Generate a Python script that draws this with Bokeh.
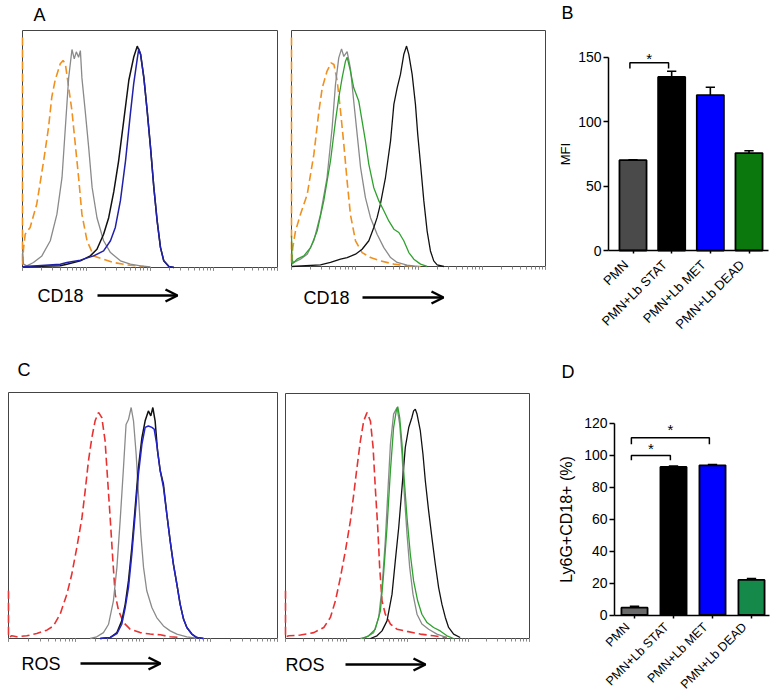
import math
from bokeh.plotting import figure
from bokeh.layouts import row, column
from bokeh.models import (Range1d, Label, Arrow, OpenHead, FixedTicker, CustomJSTickFormatter,
                          LinearAxis)
from bokeh.embed import file_html
from bokeh.resources import INLINE

FONT = "Liberation Sans"

# ---------------- histogram data (channel 0-1000 on a 4-decade log scale, % of max) -------------
# Panel A left: CD18, isotype / PMN / PMN+Lb STAT / PMN+Lb MET
a1_iso_ch = [0, 0, 4, 10.5, 30, 56, 83, 102, 115, 128, 148, 159, 168, 181, 194, 207, 220, 233, 253, 279, 318, 358, 410, 476]
a1_iso_y = [97, 1, 8, 14, 16.9, 26.8, 45, 59, 72, 79, 86, 87.3, 86, 76, 66, 52, 38, 22.5, 11.3, 4.9, 3.5, 2.1, 1.1, 0.4]
a1_pmn_ch = [0, 4, 17, 43, 76, 109, 135, 155, 168, 181, 194, 203, 211, 220, 227, 233, 246, 259.5, 273, 292, 318, 345, 384, 423, 463, 502]
a1_pmn_y = [7, 1.4, 0.7, 2.1, 4.9, 11.3, 22.5, 38, 59, 80, 92, 88, 91, 88.7, 91.5, 80, 66, 50.7, 33.8, 21, 11.3, 6.3, 2.8, 1.4, 0.7, 0.3]
a1_stat_ch = [0, 148, 174, 227, 266, 292, 318, 338, 358, 377, 397, 417, 436, 450, 463, 476, 489, 502, 515, 528, 541, 554, 574, 594]
a1_stat_y = [0.3, 0.7, 1.4, 2.8, 4.9, 7.7, 14, 21, 32, 45, 62, 79, 88.7, 93.4, 90, 80, 66, 50.7, 33.8, 19.7, 8.5, 2.8, 0.4, 0]
a1_met_ch = [0, 148, 174, 227, 279, 318, 345, 364, 384, 404, 423, 436, 450, 456, 463, 476, 489, 502, 515, 528, 541, 554, 574, 594]
a1_met_y = [0.3, 1.4, 2.1, 3.1, 4.9, 7, 11.3, 16.9, 28.2, 45, 64.8, 77.5, 88, 92.3, 90, 80, 66, 50.7, 33.8, 19.7, 8.5, 2.8, 0.4, 0]

# Panel A right: CD18, isotype / PMN / PMN+Lb DEAD / PMN+Lb STAT
a2_iso_ch = [0, 0, 5, 15.7, 35, 62, 88, 108, 121, 140, 156, 167, 180, 193, 206, 219, 232, 252, 278, 311, 350, 403, 455, 508]
a2_iso_y = [97, 1, 8, 15, 22, 30.6, 47.5, 65.9, 75.7, 82.8, 86.3, 85.6, 78.6, 65.9, 51.8, 36.2, 22, 10.9, 5.9, 3.8, 2.4, 1, 0.3, 0]
a2_pmn_ch = [0, 9, 35, 62, 88, 114, 140, 160, 173, 186, 197, 206, 219, 232, 245, 258.5, 272, 291, 311, 337, 363.5, 390, 416, 455, 495]
a2_pmn_y = [3, 1.7, 3.1, 5.2, 10.9, 22, 37.7, 58.8, 77, 88.4, 92.2, 89, 91, 84, 70, 56, 41.9, 29.2, 20.7, 13.7, 8, 3.8, 1.7, 0.6, 0]
a2_dead_ch = [0, 2.6, 22, 48.6, 75, 101, 127, 153.5, 173, 186, 199.5, 212.6, 219, 232, 245, 265, 278, 291, 304.5, 324, 344, 363.5, 383, 403, 422.6, 442, 462, 481.6, 508, 534]
a2_dead_y = [13, 1, 3.1, 4.5, 8, 15, 27.8, 44.7, 61.6, 71.5, 80, 87, 88.7, 82.8, 75.7, 70, 61.6, 53.2, 43.3, 33.4, 27.8, 23.6, 19.3, 15.8, 14.4, 10.9, 5.9, 3.1, 1, 0.1]
a2_stat_ch = [0, 114, 153.5, 193, 219, 252, 278, 304.5, 324, 337, 350, 370, 390, 403, 416, 429, 442, 453, 462, 475, 488, 497, 508, 521, 534, 547, 560, 573.5, 600]
a2_stat_y = [0, 0.7, 1.7, 3.1, 3.8, 5.2, 7.3, 10.9, 16.5, 20.7, 26.4, 37.7, 53.2, 68.7, 75.7, 81.4, 89.8, 93.4, 89.8, 81.4, 68.7, 56, 43.3, 27.8, 15, 6.6, 2.4, 0.7, 0]

# Panel C left: ROS, unstained / PMN / PMN+Lb STAT / PMN+Lb MET
c1_iso_ch = [0, 0, 12.4, 31, 68, 105, 142.5, 167, 192, 217, 235, 254, 273, 285, 297, 310, 322, 334.6, 347, 359, 368, 378, 388, 396.5, 409, 427.5, 452, 489.5, 526.6, 564, 601, 638]
c1_iso_y = [19.4, 0.5, 1.1, 0.7, 1.1, 2, 3.4, 5.1, 9.9, 18, 26, 37, 49, 60, 72, 81.7, 88.5, 91.9, 89.8, 80.4, 65.4, 49, 31.6, 18, 11.4, 6.5, 3.8, 2.4, 1.8, 1.5, 0.7, 0.4]
c1_pmn_ch = [303.6, 328, 353, 372, 390, 403, 415, 427.5, 437, 446, 456, 464.7, 474.6, 483, 492, 502, 514, 533, 551, 576, 601, 626, 663, 700]
c1_pmn_y = [0, 0.7, 2.4, 5.8, 15.3, 28.9, 47.8, 69.5, 87, 89, 93.9, 88.5, 74.9, 58.7, 42.4, 28.9, 19.4, 12.6, 8.5, 5.1, 3.1, 1.8, 0.7, 0.1]
c1_stat_ch = [341, 378, 403, 421, 434, 446, 458.5, 471, 483, 496, 508, 520, 529, 536.6, 545, 554, 564, 576, 588.6, 601, 613, 626, 638, 650.6, 663, 681.5, 700, 725]
c1_stat_y = [0, 0.4, 2.4, 7.2, 14, 23.4, 37, 53.3, 69.5, 81.7, 88.5, 92.5, 90.5, 93.9, 88.5, 76.3, 68.2, 62.7, 50.5, 39.7, 30.2, 22, 14, 7.9, 4.5, 1.8, 0.4, 0]
c1_met_ch = [341, 378, 403, 421, 434, 446, 458.5, 471, 483, 496, 508, 520, 533, 541.5, 551, 564, 576, 588.6, 601, 613, 626, 638, 650.6, 663, 681.5, 700, 725]
c1_met_y = [0, 0.4, 2, 5.8, 12.6, 20.7, 34.3, 50.5, 66.8, 79, 85.8, 86.4, 85.8, 85.1, 79, 68.2, 61.4, 50.5, 39.7, 30.2, 22, 14, 7.9, 4.5, 1.8, 0.4, 0]

# Panel C right: ROS, unstained / PMN / PMN+Lb DEAD / PMN+Lb STAT
c2_iso_ch = [0, 0, 2.7, 13.6, 61, 116, 157, 184, 204.6, 225, 245.6, 266, 279.7, 293, 307, 320.6, 334, 348, 359, 368, 378, 386, 395.6, 409, 430, 457, 498, 552.5, 607, 661.7]
c2_iso_y = [19.5, 0.5, 0.8, 1.1, 1.4, 2.4, 4.5, 8.6, 15.4, 24.9, 35.8, 48, 58.9, 69.8, 80.7, 88.8, 92.2, 88.8, 78, 61.6, 45.3, 29, 15.4, 9.9, 5.9, 3.8, 2.9, 1.8, 1.1, 0.4]
c2_pmn_ch = [307, 334, 361.5, 382, 395.6, 409, 419, 430, 443, 457, 468, 477.5, 487, 498, 509, 522.5, 539, 559, 586.6, 620.7, 661.7]
c2_pmn_y = [0, 0.7, 2.4, 8.6, 20.8, 39.9, 58.9, 79.3, 91.6, 94.3, 87.5, 75.2, 58.9, 42.6, 29, 18.1, 9.9, 5.9, 3.8, 1.8, 0.4]
c2_dead_ch = [314, 341, 368, 389, 402, 416, 430, 443, 454, 460, 468, 477.5, 487, 498, 511.6, 525, 541.6, 559, 580, 607, 634, 661.7, 689]
c2_dead_y = [0, 1.1, 3.8, 11.3, 26.3, 45.3, 68.4, 86.1, 92.9, 94.6, 90.2, 79.3, 64.4, 49.4, 34.4, 23.5, 15.4, 9.9, 6.5, 4.5, 3.1, 1.1, 0]
c2_stat_ch = [348, 375, 395.6, 416, 436.6, 450, 464, 477.5, 491, 505, 518, 525, 532, 539, 552.5, 563.4, 573, 586.6, 600, 614, 627.6, 641, 655, 668.5, 689, 716]
c2_stat_y = [0, 1.1, 3.1, 7.2, 18.1, 31.7, 45.3, 61.6, 78, 86.1, 90.2, 92.9, 93.6, 91.6, 84.8, 75.2, 64.4, 52.1, 41.2, 30.3, 20.8, 14, 8.6, 4.5, 1.8, 0.4]

# ---------------- bar chart data -------------
categories = ["PMN", "PMN+Lb STAT", "PMN+Lb MET", "PMN+Lb DEAD"]
mfi_vals = [70, 134.5, 120.5, 75.5]
mfi_err = [0.4, 4.5, 6.0, 1.8]
mfi_ticks = [0, 50, 100, 150]
mfi_sig_from = [1]
mfi_sig_to = [2]
mfi_sig_y = [145.5]
mfi_sig_leg = [141]
mfi_star_y = [148.5]

pct_vals = [4.6, 92.8, 93.8, 22.0]
pct_err = [0.8, 0.6, 0.5, 0.8]
pct_ticks = [0, 20, 40, 60, 80, 100, 120]
pct_sig_from = [1, 1]
pct_sig_to = [2, 3]
pct_sig_y = [100, 111]
pct_sig_leg = [97, 107]
pct_star_y = [104.5, 116.5]

# ---------------- styles -------------
GRAY = "#8a8a8a"
BLACK = "#111111"
BLUE_A = "#2020a8"
BLUE_C = "#2323c8"
GREEN = "#2ea12e"
ORANGE = "#f0901e"
RED = "#e83232"
colors_B = ["#4a4a4a", "#000000", "#0000ff", "#0b780d"]
colors_D = ["#6a6a6a", "#000000", "#0000ff", "#15894a"]


def to_int(ch):
    return [10 ** (c / 250.0) for c in ch]


def base_fig(w, h, xr, yr, log_x=False, y_axis=True):
    kw = dict(width=w, height=h, x_range=xr, y_range=yr, output_backend="svg", toolbar_location=None,
              title=None, min_border=0, min_border_left=0, min_border_right=0,
              min_border_top=0, min_border_bottom=0)
    if log_x:
        kw["x_axis_type"] = "log"
    if not y_axis:
        kw["y_axis_location"] = None
    p = figure(**kw)
    p.grid.visible = False
    p.outline_line_color = None
    p.background_fill_color = "white"
    p.border_fill_color = "white"
    return p


def hist_fig(w, h, bl, br, bt, bb):
    """Frame covers the whole canvas; the histogram box spans 10^0..10^4 x 0..100."""
    dpp = 4.0 / (br - bl)
    ppu = (bb - bt) / 100.0
    xr = Range1d(10 ** (-bl * dpp), 10 ** (4 + (w - br) * dpp))
    yr = Range1d(-(h - bb) / ppu, 100 + bt / ppu)
    p = base_fig(w, h, xr, yr, log_x=True, y_axis=False)
    ax = p.xaxis[0]
    ax.fixed_location = 0
    ax.bounds = (1, 1e4)
    ax.axis_line_color = None
    ax.major_tick_in = 0
    ax.minor_tick_in = 0
    ax.major_tick_out = 3
    ax.minor_tick_out = 3
    ax.major_tick_line_color = "#666666"
    ax.minor_tick_line_color = "#888888"
    ax.formatter = CustomJSTickFormatter(code="return ''")
    ax.major_label_text_color = None
    ax.major_label_text_font_size = "1px"
    p.quad(left=[1], right=[1e4], bottom=[0], top=[100], fill_color=None,
           line_color="#444444", line_width=1)

    def X(px):
        return 10 ** ((px - bl) * dpp)

    def Y(py):
        return (bb - py) / ppu
    return p, X, Y


def curve(p, ch, y, color, dash="solid", width=1.3):
    p.line(to_int(ch), y, line_color=color, line_width=width, line_dash=dash)


def text(p, x, y, t, size, align="left", baseline="middle"):
    p.add_layout(Label(x=x, y=y, text=t, text_font=FONT, text_font_size=size,
                       text_align=align, text_baseline=baseline, text_color="black"))


def arrow(p, x0, x1, y):
    p.add_layout(Arrow(end=OpenHead(size=12, line_width=2.5, line_color="black"),
                       x_start=x0, y_start=y, x_end=x1, y_end=y,
                       line_width=2.5, line_color="black"))


# ---- A left (canvas 283 x 350)
pA1, X, Y = hist_fig(283, 350, 22, 277, 30, 267)
curve(pA1, a1_iso_ch, a1_iso_y, ORANGE, "8 4", 1.6)
curve(pA1, a1_pmn_ch, a1_pmn_y, GRAY)
curve(pA1, a1_stat_ch, a1_stat_y, BLACK, width=1.5)
curve(pA1, a1_met_ch, a1_met_y, BLUE_A, width=1.5)
text(pA1, X(33), Y(14), "A", "18px")
text(pA1, X(37), Y(295), "CD18", "18px")
arrow(pA1, X(97), X(177), Y(295))

# ---- A right (canvas 275 x 350)
pA2, X, Y = hist_fig(275, 350, 8, 262, 30, 266)
curve(pA2, a2_iso_ch, a2_iso_y, ORANGE, "8 4", 1.6)
curve(pA2, a2_pmn_ch, a2_pmn_y, GRAY)
curve(pA2, a2_stat_ch, a2_stat_y, BLACK)
curve(pA2, a2_dead_ch, a2_dead_y, GREEN)
text(pA2, X(20), Y(297), "CD18", "18px")
arrow(pA2, X(79), X(160), Y(297))

# ---- C left (canvas 281 x 345)
pC1, X, Y = hist_fig(281, 345, 8, 277, 42, 288)
curve(pC1, c1_iso_ch, c1_iso_y, RED, "8 4", 1.6)
curve(pC1, c1_pmn_ch, c1_pmn_y, GRAY)
curve(pC1, c1_stat_ch, c1_stat_y, BLACK, width=1.5)
curve(pC1, c1_met_ch, c1_met_y, BLUE_C, width=1.5)
text(pC1, X(17), Y(19), "C", "18px")
text(pC1, X(21), Y(313), "ROS", "18px")
arrow(pC1, X(80), X(160), Y(313))

# ---- C right (canvas 277 x 345)
pC2, X, Y = hist_fig(277, 345, 4, 248, 43, 288)
curve(pC2, c2_iso_ch, c2_iso_y, RED, "8 4", 1.6)
curve(pC2, c2_pmn_ch, c2_pmn_y, GRAY)
curve(pC2, c2_stat_ch, c2_stat_y, BLACK)
curve(pC2, c2_dead_ch, c2_dead_y, GREEN)
text(pC2, X(4), Y(314), "ROS", "18px")
arrow(pC2, X(64), X(144), Y(314))


def bar_fig(w, h, c1_px, ppx, axis_px, axis_end_px, y0_px, ppu, ytop, ticks, vals, errs, colors,
            ylabel, ylabel_size, label_standoff, sig_from, sig_to, sig_y, sig_leg, star_y, bar_w,
            cat_size, cat_standoff):
    def X(px):
        return 1 + (px - c1_px) / ppx

    def Y(py):
        return (y0_px - py) / ppu
    p = base_fig(w, h, Range1d(X(0), X(w)), Range1d(Y(h), Y(0)))
    xs = list(range(1, len(categories) + 1))
    p.vbar(x=xs, top=vals, width=bar_w, fill_color=colors, line_color="black", line_width=1.8)
    tops = [v + e for v, e in zip(vals, errs)]
    p.segment(x0=xs, y0=vals, x1=xs, y1=tops, line_color="black", line_width=1.6)
    p.segment(x0=[x - 0.12 for x in xs], y0=tops, x1=[x + 0.12 for x in xs], y1=tops,
              line_color="black", line_width=1.6)
    off = 0.08
    bx = [[a - off, a - off, b - off, b - off] for a, b in zip(sig_from, sig_to)]
    by = [[lg, yy, yy, lg] for yy, lg in zip(sig_y, sig_leg)]
    p.multi_line(bx, by, line_color="black", line_width=1.5)
    for a, b, sy in zip(sig_from, sig_to, star_y):
        text(p, (a + b) / 2 - off, sy, "*", "15px", align="center")
    ya = p.yaxis[0]
    ya.fixed_location = X(axis_px)
    ya.bounds = (0, ytop)
    ya.ticker = FixedTicker(ticks=ticks)
    ya.axis_line_width = 1.5
    ya.axis_line_color = "black"
    ya.major_tick_line_width = 1.5
    ya.major_tick_line_color = "black"
    ya.major_tick_out = 5
    ya.major_tick_in = 0
    ya.minor_tick_out = 0
    ya.minor_tick_in = 0
    ya.major_label_standoff = 2
    ya.major_label_text_font = FONT
    ya.major_label_text_font_size = "14px"
    ya.major_label_text_color = "black"
    ya.axis_label = ylabel
    ya.axis_label_text_font = FONT
    ya.axis_label_text_font_size = ylabel_size
    ya.axis_label_text_font_style = "normal"
    ya.axis_label_text_color = "black"
    ya.axis_label_standoff = label_standoff
    # axis line with tick marks at the bar centres
    xa = p.xaxis[0]
    xa.fixed_location = 0
    xa.bounds = (X(axis_px), X(axis_end_px))
    xa.ticker = FixedTicker(ticks=xs)
    xa.formatter = CustomJSTickFormatter(code="return ''")
    xa.major_label_text_color = None
    xa.axis_line_width = 1.5
    xa.axis_line_color = "black"
    xa.major_tick_line_width = 1.5
    xa.major_tick_line_color = "black"
    xa.major_tick_out = 3
    xa.major_tick_in = 0
    xa.minor_tick_out = 0
    xa.minor_tick_in = 0
    # category names, rotated 45 degrees, ending just under each bar
    shift = 0.18
    la = LinearAxis(fixed_location=0, ticker=FixedTicker(ticks=[x - shift for x in xs]),
                    formatter=CustomJSTickFormatter(args=dict(labels=categories),
                                                    code="return labels[index]"))
    la.axis_line_color = None
    la.major_tick_line_color = None
    la.minor_tick_line_color = None
    la.major_tick_out = 3
    la.major_tick_in = 0
    la.minor_tick_out = 0
    la.minor_tick_in = 0
    la.major_label_orientation = math.pi / 4
    la.major_label_standoff = cat_standoff
    la.major_label_text_font = FONT
    la.major_label_text_font_size = cat_size
    la.major_label_text_color = "black"
    p.add_layout(la, "below")
    return p, X, Y


pB, X, Y = bar_fig(214, 350, 74.5, 38.67, 50, 210, 250.0, 1.29, 150, mfi_ticks, mfi_vals, mfi_err,
                   colors_B, "MFI", "13px", 2, mfi_sig_from, mfi_sig_to, mfi_sig_y, mfi_sig_leg,
                   mfi_star_y, 0.7, "13px", 9)
text(pB, X(3), Y(12), "B", "18px")

pD, X, Y = bar_fig(214, 345, 76, 39.0, 56, 211, 264.5, 1.596, 120, pct_ticks, pct_vals, pct_err,
                   colors_D, "Ly6G+CD18+ (%)", "16px", 6, pct_sig_from, pct_sig_to, pct_sig_y,
                   pct_sig_leg, pct_star_y, 0.67, "12.5px", 7)
text(pD, X(3), Y(21), "D", "18px")

layout = column(row(pA1, pA2, pB, spacing=0), row(pC1, pC2, pD, spacing=0), spacing=0)
open("out.html", "w").write(file_html(layout, INLINE, "figure"))
